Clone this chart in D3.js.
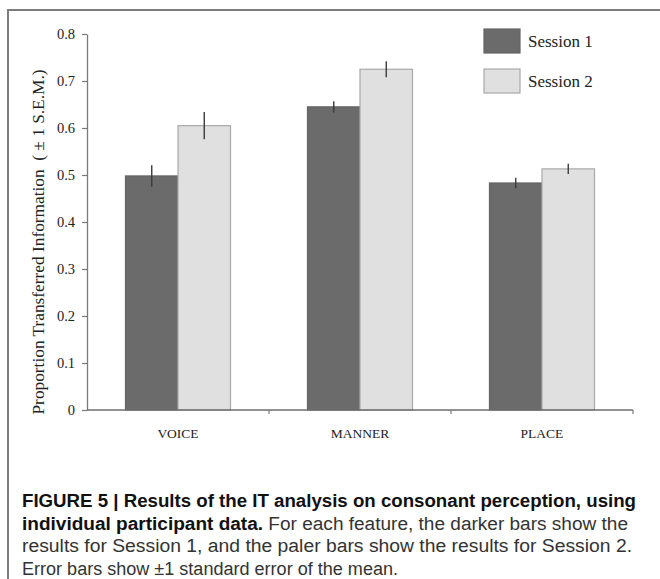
<!DOCTYPE html>
<html>
<head>
<meta charset="utf-8">
<script src="https://cdn.jsdelivr.net/npm/d3@7/dist/d3.min.js"></script>
<style>
  html, body { margin: 0; padding: 0; background: #fff; }
  svg { display: block; }
</style>
</head>
<body>
<svg id="fig" width="660" height="579"></svg>
<script>
// Feature categories and per-session means / standard errors
const categories = ["VOICE", "MANNER", "PLACE"];
const seriesNames = ["Session 1", "Session 2"];
const session1 = [0.498, 0.645, 0.483];
const session2 = [0.605, 0.725, 0.513];
const sem1 = [0.023, 0.012, 0.011];
const sem2 = [0.029, 0.017, 0.011];
const yTicks = [0, 0.1, 0.2, 0.3, 0.4, 0.5, 0.6, 0.7, 0.8];
const yTickLabels = ["0", "0.1", "0.2", "0.3", "0.4", "0.5", "0.6", "0.7", "0.8"];

const captionLines = [
  [{ t: "FIGURE 5 | Results of the IT analysis on consonant perception, using", b: true }],
  [{ t: "individual participant data.", b: true }, { t: " For each feature, the darker bars show the", b: false }],
  [{ t: "results for Session 1, and the paler bars show the results for Session 2.", b: false }],
  [{ t: "Error bars show \u00B11 standard error of the mean.", b: false }]
];
const captionWidths = [614, 606, 610, 376];

const colors = { "Session 1": "#6b6b6b", "Session 2": "#e0e0e0" };
const strokes = { "Session 1": "#646464", "Session 2": "#a9a9a9" };

const rows = categories.map((c, i) => ({
  cat: c,
  vals: [
    { s: "Session 1", v: session1[i], e: sem1[i] },
    { s: "Session 2", v: session2[i], e: sem2[i] }
  ]
}));

const svg = d3.select("#fig");
const serif = "'Liberation Serif', 'Times New Roman', serif";
const sans = "'Liberation Sans', Arial, sans-serif";

// Panel frame
svg.append("path")
  .attr("d", "M8,579V10H660")
  .attr("fill", "none")
  .attr("stroke", "#7c7c7c")
  .attr("stroke-width", 2);

const plot = { left: 87, right: 633, top: 34, bottom: 410 };

const x = d3.scaleBand().domain(categories).range([plot.left, plot.right]).paddingInner(0).paddingOuter(0);
const x1 = d3.scaleBand().domain(seriesNames).range([0, x.bandwidth()]).paddingInner(0).paddingOuter(0.733);
const y = d3.scaleLinear().domain([0, 0.8]).range([plot.bottom, plot.top]);

// Bars
const groups = svg.append("g").selectAll("g")
  .data(rows).join("g")
  .attr("transform", d => `translate(${x(d.cat)},0)`);

groups.selectAll("rect")
  .data(d => d.vals).join("rect")
  .attr("x", d => x1(d.s))
  .attr("y", d => y(d.v))
  .attr("width", x1.bandwidth())
  .attr("height", d => y(0) - y(d.v))
  .attr("fill", d => colors[d.s])
  .attr("stroke", d => strokes[d.s])
  .attr("stroke-width", 1.2);

// Error bars
groups.selectAll("line.err")
  .data(d => d.vals).join("line")
  .attr("class", "err")
  .attr("x1", d => x1(d.s) + x1.bandwidth() / 2)
  .attr("x2", d => x1(d.s) + x1.bandwidth() / 2)
  .attr("y1", d => y(d.v + d.e))
  .attr("y2", d => y(d.v - d.e))
  .attr("stroke", "#3a3a3a")
  .attr("stroke-width", 1.4);

// Y axis
const yAxis = d3.axisLeft(y)
  .tickValues(yTicks)
  .tickFormat((d, i) => yTickLabels[i])
  .tickSize(5)
  .tickSizeOuter(0);
const gy = svg.append("g").attr("transform", `translate(${plot.left},0)`).call(yAxis);
gy.select(".domain").attr("stroke", "#7a7a7a").attr("stroke-width", 1.3);
gy.selectAll(".tick line").attr("stroke", "#7a7a7a").attr("stroke-width", 1.2);
gy.selectAll(".tick text")
  .attr("x", -12)
  .attr("font-family", serif)
  .attr("font-size", 14.5)
  .attr("fill", "#222");

// X axis: ticks at category boundaries
const boundaries = categories.map(c => x(c) + x.bandwidth());
const gx = svg.append("g");
gx.append("line")
  .attr("x1", plot.left).attr("x2", plot.right)
  .attr("y1", y(0)).attr("y2", y(0))
  .attr("stroke", "#6e6e6e").attr("stroke-width", 1.3);
gx.selectAll("line.tk").data(boundaries).join("line")
  .attr("class", "tk")
  .attr("x1", d => d).attr("x2", d => d)
  .attr("y1", y(0)).attr("y2", y(0) + 4)
  .attr("stroke", "#7a7a7a").attr("stroke-width", 1.2);
gx.selectAll("text").data(categories).join("text")
  .attr("x", d => x(d) + x.bandwidth() / 2)
  .attr("y", y(0) + 28)
  .attr("text-anchor", "middle")
  .attr("font-family", serif)
  .attr("font-size", 13.5)
  .attr("fill", "#222")
  .text(d => d);

// Y axis title
svg.append("text")
  .attr("transform", `translate(44,242) rotate(-90)`)
  .attr("text-anchor", "middle")
  .attr("font-family", serif)
  .attr("font-size", 16.5)
  .attr("fill", "#222")
  .attr("textLength", 345)
  .attr("lengthAdjust", "spacingAndGlyphs")
  .attr("xml:space", "preserve")
  .text("Proportion Transferred Information  ( \u00B1 1 S.E.M.)");

// Legend
const legend = svg.append("g").selectAll("g")
  .data(seriesNames).join("g")
  .attr("transform", (d, i) => `translate(484,${29 + i * 40})`);
legend.append("rect")
  .attr("width", 36).attr("height", 24)
  .attr("fill", d => colors[d])
  .attr("stroke", d => strokes[d])
  .attr("stroke-width", 1.2);
legend.append("text")
  .attr("x", 44).attr("y", 18)
  .attr("font-family", serif)
  .attr("font-size", 17)
  .attr("fill", "#222")
  .text(d => d);

// Caption
const cap = svg.append("g");
captionLines.forEach((line, i) => {
  const t = cap.append("text")
    .attr("x", 22)
    .attr("y", 507 + i * 22.7)
    .attr("font-family", sans)
    .attr("font-size", 18)
    .attr("textLength", captionWidths[i])
    .attr("lengthAdjust", "spacingAndGlyphs")
    .attr("xml:space", "preserve");
  line.forEach(seg => {
    t.append("tspan")
      .attr("font-weight", seg.b ? "bold" : "normal")
      .attr("fill", seg.b ? "#111" : "#333")
      .text(seg.t);
  });
});
</script>
</body>
</html>
